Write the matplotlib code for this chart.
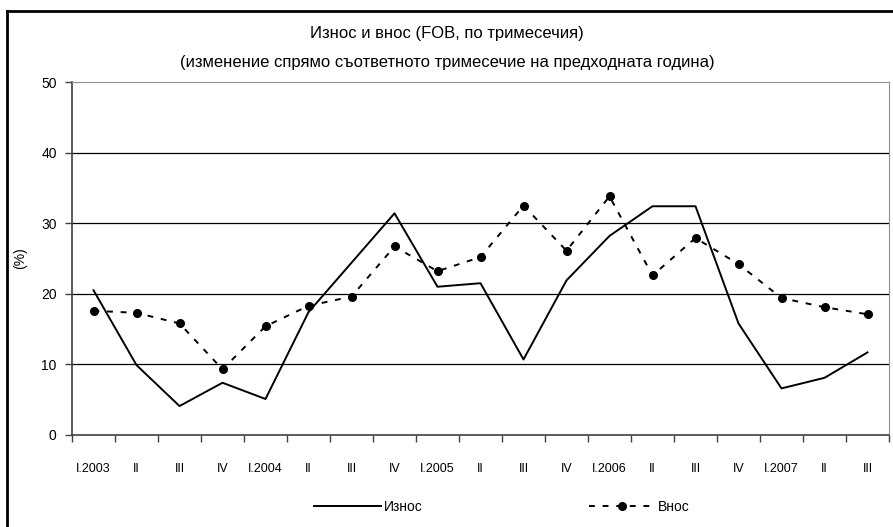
import matplotlib
matplotlib.use('Agg')
import matplotlib.pyplot as plt
from matplotlib.lines import Line2D
import numpy as np

plt.rcParams['font.family'] = ['Liberation Sans Narrow', 'Liberation Sans', 'DejaVu Sans']

quarters = ['I.2003', 'II', 'III', 'IV', 'I.2004', 'II', 'III', 'IV', 'I.2005', 'II',
            'III', 'IV', 'I.2006', 'II', 'III', 'IV', 'I.2007', 'II', 'III']
iznos = [20.5, 9.9, 4.1, 7.4, 5.1, 17.4, 24.4, 31.4, 21.0, 21.5,
         10.7, 21.9, 28.2, 32.4, 32.4, 15.8, 6.6, 8.1, 11.7]
vnos = [17.6, 17.3, 15.8, 9.3, 15.4, 18.3, 19.6, 26.7, 23.2, 25.2,
        32.5, 26.1, 33.8, 22.6, 27.9, 24.2, 19.4, 18.1, 17.1]

W, H = 893, 527
fig = plt.figure(figsize=(W / 100, H / 100), dpi=100)
ax = fig.add_axes([72 / W, 1 - 435 / H, 817 / W, 353 / H])

x = np.arange(len(quarters))
ax.plot(x, iznos, color='black', lw=1.4, label='Износ')
ax.plot(x, vnos, color='black', lw=1.4, ls=(0, (3, 4)), marker='o', ms=5.5,
        label='Внос')

ax.set_xlim(-0.5, len(quarters) - 0.5)
ax.set_ylim(0, 50)
ax.set_yticks([0, 10, 20, 30, 40, 50])
ax.tick_params(axis='y', labelsize=10, length=5, width=1, color='#404040', pad=6)
ax.set_xticks(x)
ax.set_xticklabels(quarters, fontsize=9)
ax.tick_params(axis='x', length=0, pad=20)
ax.set_xticks(np.arange(len(quarters) + 1) - 0.5, minor=True)
ax.tick_params(axis='x', which='minor', length=5, width=1, color='#404040')
for v in [10, 20, 30, 40]:
    ax.axhline(v, color='black', lw=0.9, zorder=0)

ax.spines['left'].set_color('#404040')
ax.spines['bottom'].set_color('#404040')
ax.spines['left'].set_linewidth(1.2)
ax.spines['bottom'].set_linewidth(1.2)
ax.spines['top'].set_color('#909090')
ax.spines['right'].set_color('#909090')
ax.set_ylabel('(%)', fontsize=10, va='center')
ax.yaxis.set_label_coords(-52 / 817, 0.5)

fig.text(447 / W, 1 - 34 / H, 'Износ и внос (FOB, по тримесечия)', ha='center',
         va='center', fontsize=12)
fig.text(447 / W, 1 - 62 / H,
         '(изменение спрямо съответното тримесечие на предходната година)',
         ha='center', va='center', fontsize=12)

fig.legend(loc='center', bbox_to_anchor=(502 / W, 1 - 507 / H), ncol=2, frameon=False,
           fontsize=10, handlelength=4.8, columnspacing=12, handletextpad=0.2)

# outer frame (cut off at right and bottom)
fig.add_artist(Line2D([7 / W, 7 / W], [0, 1 - 11 / H], color='black', lw=2,
                      transform=fig.transFigure))
fig.add_artist(Line2D([7 / W, 1], [1 - 11 / H, 1 - 11 / H], color='black', lw=2,
                      transform=fig.transFigure))

fig.savefig('out.png', dpi=100)
